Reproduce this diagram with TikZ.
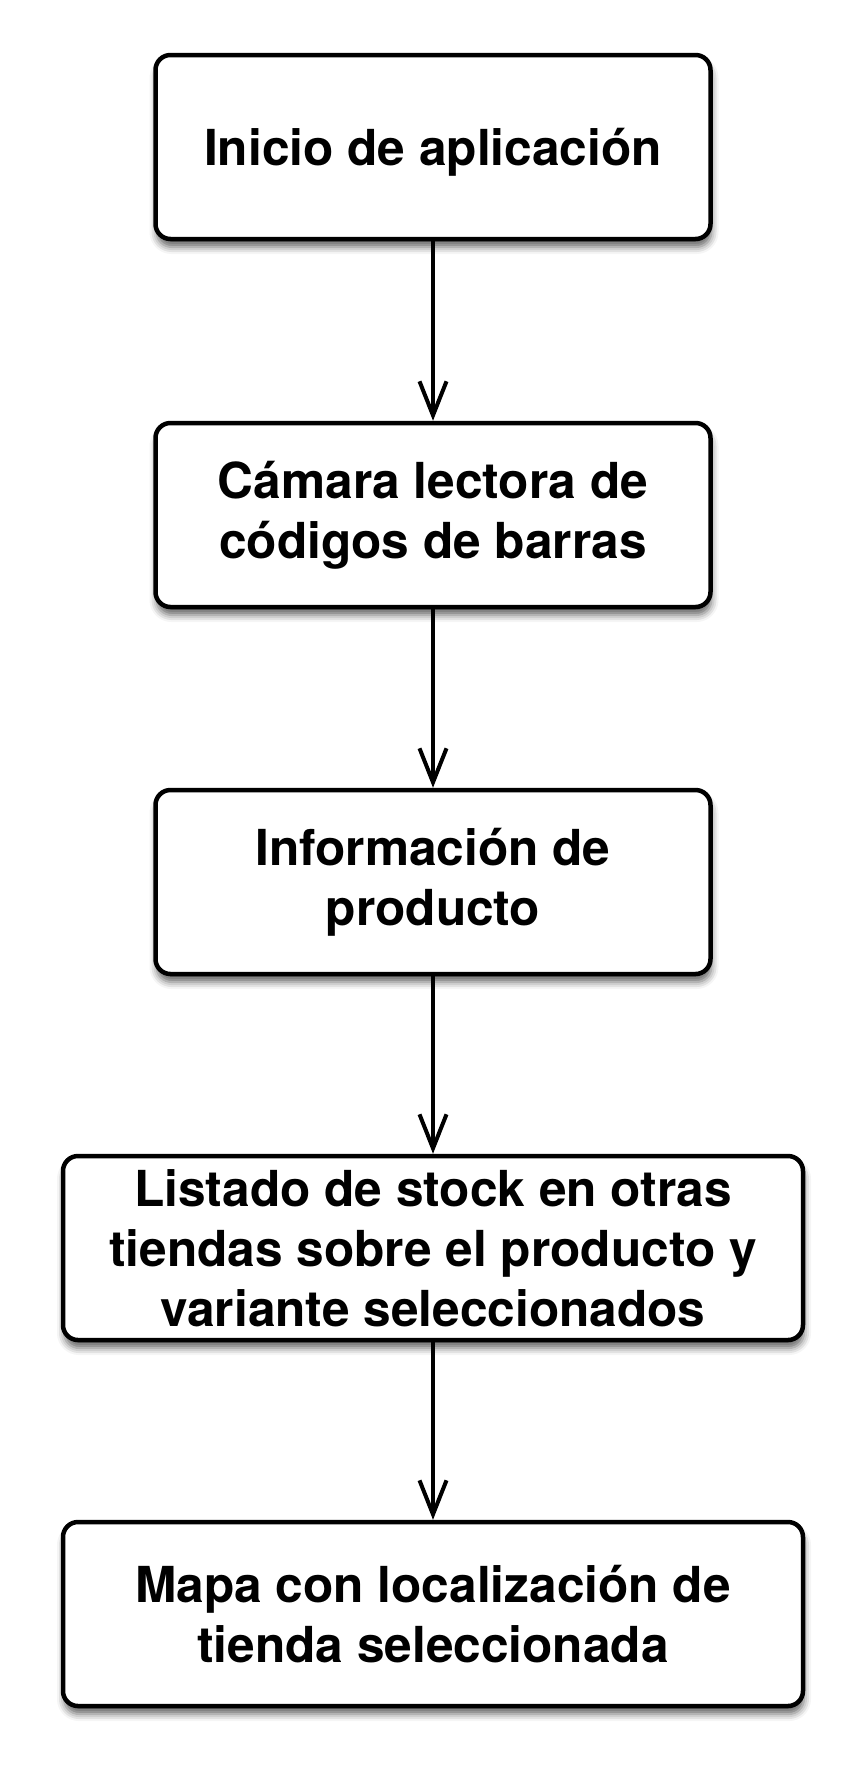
\documentclass[tikz,border=0pt]{standalone}
\usepackage{fontspec}
\setmainfont{TeX Gyre Heros}
\usepackage{tikz}
\usetikzlibrary{arrows.meta}
\usetikzlibrary{shadows.blur}

\begin{document}
\begin{tikzpicture}[x=0.5pt,y=-0.5pt,>={Straight Barb[length=17pt,width=13.5pt]},
    paso/.style={draw,line width=2.25pt,rounded corners=7.5pt,fill=white,align=center,
        minimum width=277.5pt,minimum height=92pt,inner sep=0pt,
        font=\fontsize{24.8pt}{30pt}\selectfont\bfseries,
        blur shadow={shadow xshift=0.5pt,shadow yshift=-4pt,shadow blur radius=3.5pt,shadow opacity=60}},
    pasoancho/.style={paso,minimum width=370pt},
    flecha/.style={->,line width=2pt}]
    \useasboundingbox (0,0) rectangle (866,1779);
    \node[paso,text depth=0pt] (inicio) at (433,147) {Inicio de aplicación};
    \node[paso] (camara) at (433,515) {Cámara lectora de\\códigos de barras};
    \node[paso] (info) at (433,882) {Información de\\producto};
    \node[pasoancho] (listado) at (433,1248) {Listado de stock en otras\\tiendas sobre el producto y\\variante seleccionados};
    \node[pasoancho] (mapa) at (433,1614) {Mapa con localización de\\tienda seleccionada};
    \draw[flecha] (inicio) -- (camara);
    \draw[flecha] (camara) -- (info);
    \draw[flecha] (info) -- (listado);
    \draw[flecha] (listado) -- (mapa);
\end{tikzpicture}
\end{document}
